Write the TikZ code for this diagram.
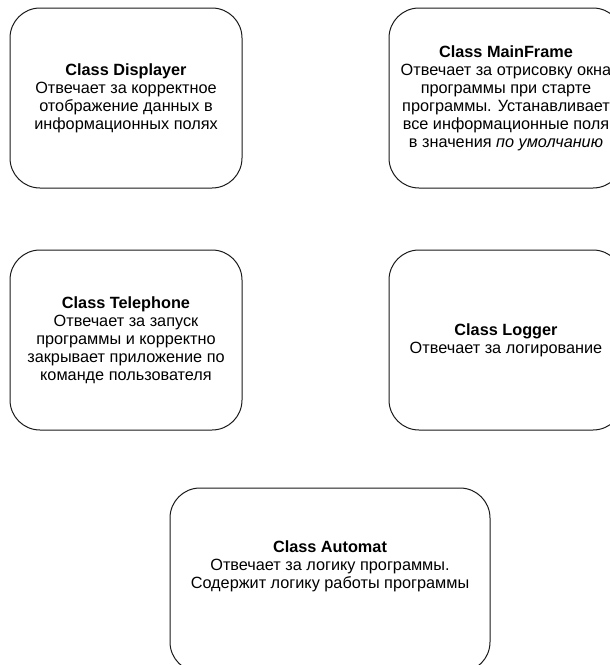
\documentclass[tikz,border=0pt]{standalone}
\usepackage{fontspec}
\setmainfont{Liberation Sans}
\usetikzlibrary{positioning}

\begin{document}
\begin{tikzpicture}[x=0.75pt, y=-0.75pt, node distance=45.75pt, every node/.style={font=\fontsize{12.2}{13.5}\selectfont}]
        \tikzstyle{cls}=[draw=black!90, line width=0.75pt, rounded corners=22.5pt, align=center, inner sep=0pt, minimum width=174pt, minimum height=135pt]
        \tikzstyle{txt}=[align=center, inner sep=0pt]
        \useasboundingbox (0,0) rectangle (610,665);
        \clip (0,0) rectangle (610,665);
        \node[cls] (d) at (126,98) {\textbf{Class Displayer}\\Отвечает за корректное\\отображение данных в\\информационных полях};
        \node[cls, minimum width=175.5pt, right=109.5pt of d] (m) {};
        \node[txt] (mt) at (m.center) {\textbf{Class MainFrame}\\Отвечает за отрисовку окна\\программы при старте\\программы. Устанавливает\\все информационные поля\\в значения \textit{по умолчанию}};
        \node[cls, below=of d] (t) {\textbf{Class Telephone}\\Отвечает за запуск\\программы и корректно\\закрывает приложение по\\команде пользователя};
        \node[cls, minimum width=175.5pt, below=of m] (l) {\textbf{Class Logger}\\Отвечает за логирование};
        \node[cls, minimum width=240pt, minimum height=138pt] (a) at (330,580) {};
        \node[txt] (at) at (330,566) {\textbf{Class Automat}\\Отвечает за логику программы.\\Содержит логику работы программы};
      \end{tikzpicture}
\end{document}
